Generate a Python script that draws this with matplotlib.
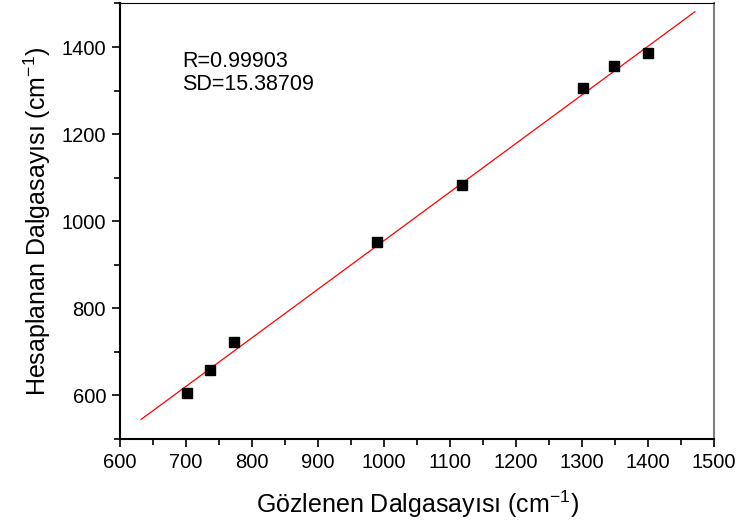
import matplotlib
matplotlib.use("Agg")
import matplotlib.pyplot as plt
from matplotlib.ticker import MultipleLocator

plt.rcParams['font.family'] = ['Liberation Sans', 'DejaVu Sans']
plt.rcParams['mathtext.fontset'] = 'custom'
plt.rcParams['mathtext.rm'] = 'Liberation Sans'
plt.rcParams['mathtext.it'] = 'Liberation Sans'
plt.rcParams['mathtext.default'] = 'regular'

# deneysel / hesaplanan dalga sayilari
gozlenen = [701, 737, 772, 990, 1118, 1301, 1349, 1400]
hesaplanan = [606, 659, 723, 953, 1084, 1307, 1357, 1387]
# fit cizgisinin uclari
fit_x = [632, 1471]
fit_y = [545, 1481]

fig = plt.figure(figsize=(7.44, 5.27), dpi=100)
ax = fig.add_axes([0.1613, 0.167, 0.7984, 0.8264])

ax.plot(fit_x, fit_y, color='red', lw=0.9)
ax.plot(gozlenen, hesaplanan, 's', color='black', markersize=6.5)

ax.set_xlim(600, 1500)
ax.set_ylim(500, 1500)
ax.xaxis.set_major_locator(MultipleLocator(100))
ax.xaxis.set_minor_locator(MultipleLocator(50))
ax.yaxis.set_major_locator(MultipleLocator(200))
ax.yaxis.set_minor_locator(MultipleLocator(100))
ax.tick_params(which='both', direction='out', top=False, right=False, labelsize=14.5, width=1.2)
ax.tick_params(which='major', length=6, pad=4)
ax.tick_params(which='minor', length=4)

ax.spines['left'].set_linewidth(1.5)
ax.spines['bottom'].set_linewidth(1.5)
ax.spines['top'].set_linewidth(0.8)
ax.spines['right'].set_linewidth(1.5)
ax.spines['right'].set_color('#808080')

ax.set_xlabel('Gözlenen Dalgasayısı (cm$^{-1}$)', fontsize=18, labelpad=12)
ax.set_ylabel('Hesaplanan Dalgasayısı (cm$^{-1}$)', fontsize=18, labelpad=6)

ax.text(0.105, 0.89, 'R=0.99903\nSD=15.38709', transform=ax.transAxes,
        fontsize=15.5, va='top', ha='left', linespacing=1.1)

fig.savefig('out.png', dpi=100)
